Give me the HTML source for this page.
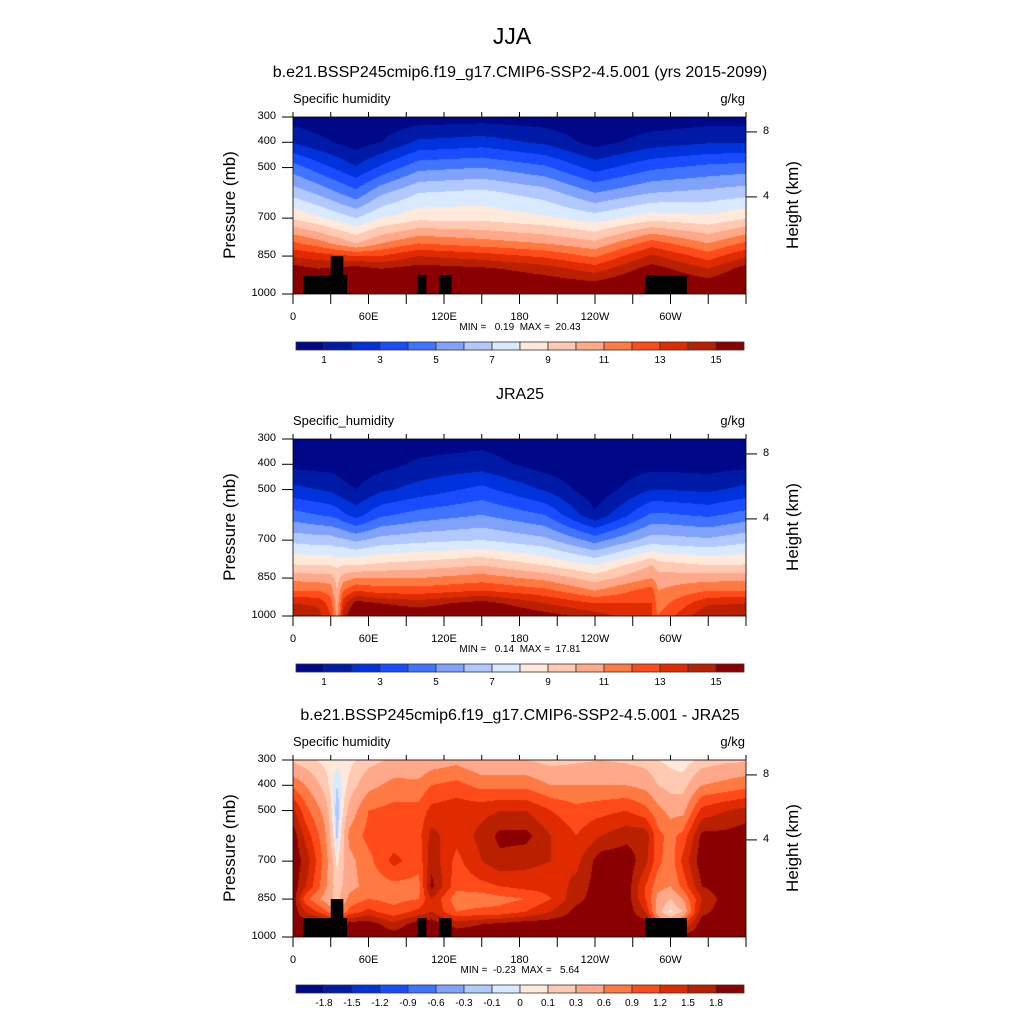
<!DOCTYPE html>
<html><head><meta charset="utf-8">
<style>
body{margin:0;background:#fff;}
#root{position:relative;width:1024px;height:1024px;background:#fff;font-family:"Liberation Sans",sans-serif;color:#000;}
.t{position:absolute;white-space:nowrap;}
canvas{position:absolute;}
svg{position:absolute;left:0;top:0;}
</style></head>
<body>
<div id="root">
<div class="t" style="left:0;width:1024px;text-align:center;top:23px;font-size:23px;">JJA</div>
</div>
<script>
// ---------- DATA ----------
const levels = [300,400,500,600,700,800,850,900,950,1000];
const colors = ["#00088a","#001aa8","#0032dc","#1a4cff","#4073ff","#80a2fa","#b2c9ff","#d9e9ff","#ffe9da","#ffc9b2","#ffa98a","#ff7942","#ff4a1a","#e02a00","#b82000","#8a0000"];
const bounds1 = [1,2,3,4,5,6,7,8,9,10,11,12,13,14,15];
const bounds3 = [-1.8,-1.5,-1.2,-0.9,-0.6,-0.3,-0.1,0,0.1,0.3,0.6,0.9,1.2,1.5,1.8];
const labels1 = ["","1","","3","","5","","7","","9","","11","","13","","15"];
const labels3 = ["-1.8","-1.5","-1.2","-0.9","-0.6","-0.3","-0.1","0","0.1","0.3","0.6","0.9","1.2","1.5","1.8"];
const xTickLabels = ["0","60E","120E","180","120W","60W"];
const xTickLons = [0,60,120,180,240,300];
const yTickLabels = ["300","400","500","700","850","1000"];
const yTickP = [300,400,500,700,850,1000];
const hTickLabels = ["8","4"];
const hTickP = [359,616];

const lons1 = [0,20,50,70,100,150,200,240,285,330,360];
const q1 = [
 [0.5,1.9,4.5,6.6,8.9,12.2,13.9,15.5,16.3,17],
 [0.3,1.3,3.5,5.8,8.2,11.5,13.5,15,15.8,16.5],
 [0.2,0.5,2.1,4.3,7,10,13,15.5,16,16.5],
 [0.3,1.0,3.2,5.8,8,11,13,15,16,17],
 [0.4,2.2,4.7,7,8.7,12,14,15.5,16.3,17],
 [0.5,2.5,5,7.3,8.7,11.5,13.5,15.2,16.1,17],
 [0.4,1.8,4.2,6.5,8.2,11,12.8,14.5,15.5,16.5],
 [0.2,0.6,2.6,5,7.5,10.3,11.8,13.5,15,16],
 [0.3,1.5,3.8,6,8.6,12.5,14.2,15.5,16.3,17],
 [0.5,1.9,4.3,6.3,8.3,11,12.5,14,15.3,16.5],
 [0.5,1.9,4.5,6.6,8.9,12.2,13.9,15.5,16.3,17]
];
const lons2 = [0,20,30,35,40,50,70,100,150,200,240,285,290,330,360];
const q2 = [
 [0.3,0.7,2.3,4.4,6.7,9.1,10.7,12,14,14.8],
 [0.2,0.6,2.0,4.0,6.5,9.0,10.5,12,13.8,14.5],
 [0.2,0.6,1.8,3.8,6.5,9.0,10.5,11.5,12.5,13],
 [0.2,0.5,1.6,3.6,6.3,8.8,9.6,10,10.3,10.5],
 [0.15,0.45,1.3,3.2,6.2,9.0,10.5,12,13.5,14.5],
 [0.1,0.35,1.0,2.6,5.8,9.0,11,13,15.5,16.5],
 [0.2,0.6,1.8,3.8,6.4,9.3,11,12.5,15,16.2],
 [0.4,1.2,2.4,4.4,6.7,9.5,11,12.5,14.5,16],
 [0.6,1.5,3.3,5,7,10,11.5,13,15.5,16.5],
 [0.2,0.5,1.9,4,6.3,9,10.7,12.3,14,15.5],
 [0.1,0.2,0.3,1.2,4.6,8,9.5,11,13,14.5],
 [0.2,0.6,2,4.2,6.5,10,11,12.5,13,13],
 [0.2,0.6,2,4.2,6.5,9.5,10.5,11,11.5,12],
 [0.2,0.5,1.8,3.8,6.2,9,10.6,12,13.8,15],
 [0.3,0.7,2.3,4.4,6.7,9.1,10.7,12,14,14.8]
];
const lons3 = [0,10,25,35,45,60,80,100,110,130,150,165,185,205,225,245,265,280,290,300,310,325,345,360];
const q3 = [
 [0.25,0.8,1.6,2,2,2,2,2,2,2],
 [0.15,0.6,1.0,1.4,1.7,1.5,1.0,1.5,2,2],
 [0.05,0.2,0.5,0.7,0.8,0.7,0.5,1.0,2,2],
 [0.05,-0.1,-0.2,-0.15,0.05,0.15,0.2,0.5,1.5,2],
 [0.05,0.15,0.4,0.7,0.5,0.5,0.7,1.0,2,2],
 [0.2,0.5,0.9,1.0,0.8,0.7,0.9,1.3,2,2],
 [0.35,0.7,1.0,1.0,1.3,0.8,0.8,1.0,1.6,2],
 [0.3,0.7,1.0,1.1,1.0,0.8,0.9,1.3,2,2],
 [0.4,0.9,1.3,1.6,1.7,1.9,1.5,1.5,2,2],
 [0.5,1.0,1.4,1.3,1.1,1.0,0.7,0.9,1.7,2],
 [0.3,0.8,1.4,1.6,1.5,1.1,0.7,1.0,1.8,2],
 [0.3,0.8,1.5,1.9,1.7,1.2,0.8,1.0,1.9,2],
 [0.3,0.8,1.5,1.9,1.6,1.3,0.9,1.2,2,2],
 [0.2,0.6,1.2,1.5,1.5,1.3,1.2,1.5,2,2],
 [0.25,0.6,1.0,1.2,1.4,1.6,1.7,1.9,2,2],
 [0.3,0.6,1.1,1.5,2,2,2,2,2,2],
 [0.25,0.6,1.2,1.7,2,2,2,2,2,2],
 [0.2,0.5,1.0,1.7,1.6,1.2,1.2,1.5,2,2],
 [0.1,0.3,0.7,1.0,1.0,0.7,0.5,0.4,1.0,2],
 [0.05,0.2,0.5,0.8,0.7,0.6,0.3,0.05,0.6,2],
 [0.0,0.2,0.5,1.0,1.3,1.0,0.6,0.3,1.2,2],
 [0.15,0.6,1.3,1.9,2,1.8,1.5,1.7,2,2],
 [0.25,0.7,1.5,1.9,2,2,2,2,2,2],
 [0.25,0.8,1.6,2,2,2,2,2,2,2]
];
// topography mask boxes: [lonStart, lonEnd, pressureTop]
const maskLon0 = [8,30,99,116,280];
const maskLon1 = [43,40,106,126,313];
const maskPTop = [925,850,925,925,925];

const panels = [
 {top:117, title:"b.e21.BSSP245cmip6.f19_g17.CMIP6-SSP2-4.5.001 (yrs 2015-2099)", vname:"Specific humidity", lons:lons1, q:q1, bounds:bounds1, cbl:labels1, mask:true, mm:"MIN =   0.19  MAX =  20.43", key:"model"},
 {top:439, title:"JRA25", vname:"Specific_humidity", lons:lons2, q:q2, bounds:bounds1, cbl:labels1, mask:false, mm:"MIN =   0.14  MAX =  17.81", key:"jra25"},
 {top:760, title:"b.e21.BSSP245cmip6.f19_g17.CMIP6-SSP2-4.5.001 - JRA25", vname:"Specific humidity", lons:lons3, q:q3, bounds:bounds3, cbl:labels3, mask:true, mm:"MIN =  -0.23  MAX =   5.64", key:"difference"}
];

// ---------- RENDER ----------
const root = document.getElementById('root');
const L = 293, R = 746, H = 177;
const W = R - L;
const xOf = lon => L + lon / 360 * W;
const yOf = (p, top) => top + (p - 300) / 700 * H;

function interp(arr, xs, v){
  let i = 0;
  while (i < xs.length - 2 && v > xs[i+1]) i++;
  const t = Math.max(0, Math.min(1, (v - xs[i]) / (xs[i+1] - xs[i])));
  return [i, t];
}
function addText(txt, name, css){
  const d = document.createElement('div');
  d.className = 't';
  d.textContent = txt;
  
  
  d.style.cssText = css;
  root.appendChild(d);
  return d;
}
const NS = "http://www.w3.org/2000/svg";
const svg = document.createElementNS(NS, 'svg');
svg.setAttribute('width', 1024); svg.setAttribute('height', 1024);


function line(x1,y1,x2,y2,name,w){
  const l = document.createElementNS(NS,'line');
  l.setAttribute('x1',x1);l.setAttribute('y1',y1);l.setAttribute('x2',x2);l.setAttribute('y2',y2);
  l.setAttribute('stroke','#000');l.setAttribute('stroke-width',w||1);
  
  
  svg.appendChild(l);
}
function rect(x,y,w,h,fill,name,stroke){
  const r = document.createElementNS(NS,'rect');
  r.setAttribute('x',x);r.setAttribute('y',y);r.setAttribute('width',w);r.setAttribute('height',h);
  r.setAttribute('fill',fill);
  if(stroke){r.setAttribute('stroke',stroke);r.setAttribute('stroke-width',0.8);}
  
  
  svg.appendChild(r);
}

panels.forEach((P, pi) => {
  const top = P.top;
  const cv = document.createElement('canvas');
  cv.width = W; cv.height = H;
  cv.style.left = L + 'px'; cv.style.top = top + 'px';
  
  
  root.appendChild(cv);
  const ctx = cv.getContext('2d');
  for (let px = 0; px < W; px++){
    const lon = (px + 0.5) / W * 360;
    const [i, t] = interp(null, P.lons, lon);
    let runStart = 0, runCol = null;
    for (let py = 0; py <= H; py++){
      let col = null;
      if (py < H){
        const p = 300 + (py + 0.5) / H * 700;
        const [j, s] = interp(null, levels, p);
        const a = P.q[i][j]*(1-s) + P.q[i][j+1]*s;
        const b = P.q[i+1][j]*(1-s) + P.q[i+1][j+1]*s;
        const v = a*(1-t) + b*t;
        let k = 0;
        while (k < P.bounds.length && v >= P.bounds[k]) k++;
        col = colors[k];
      }
      if (col !== runCol){
        if (runCol){ ctx.fillStyle = runCol; ctx.fillRect(px, runStart, 1, py - runStart); }
        runCol = col; runStart = py;
      }
    }
  }
  if (P.mask){
    for (let m = 0; m < maskLon0.length; m++){
      rect(xOf(maskLon0[m]), yOf(maskPTop[m], top), xOf(maskLon1[m]) - xOf(maskLon0[m]), yOf(1000, top) - yOf(maskPTop[m], top), '#000', 'topography-mask');
    }
  }
  rect(L, top, W, H, 'none', 'plot-frame', '#000');
  for (let lon = 0; lon <= 360; lon += 30){
    line(xOf(lon), top + H, xOf(lon), top + H + 10, 'x-tick');
    line(xOf(lon), top, xOf(lon), top - 5, 'x-tick-top');
  }
  xTickLabels.forEach((lb, k) => {
    addText(lb, 'x-tick-label', `left:${xOf(xTickLons[k]) - 30}px;width:60px;text-align:center;top:${top + H + 17}px;font-size:11px;`);
  });
  yTickP.forEach((p, k) => {
    line(L - 11, yOf(p, top), L, yOf(p, top), 'y-tick');
    addText(yTickLabels[k], 'y-tick-label', `left:236px;width:40px;text-align:right;top:${yOf(p, top) - 7}px;font-size:11px;`);
  });
  hTickP.forEach((p, k) => {
    line(R, yOf(p, top), R + 11, yOf(p, top), 'height-tick');
    addText(hTickLabels[k], 'height-tick-label', `left:763px;top:${yOf(p, top) - 7}px;font-size:11px;`);
  });
  addText(P.title, P.key + '-title', `left:0;width:1040px;text-align:center;top:${top - 53}px;font-size:16px;`);
  addText(P.vname, 'variable-name', `left:293px;top:${top - 26}px;font-size:13px;`);
  addText('g/kg', 'units-label', `left:700px;width:45px;text-align:right;top:${top - 26}px;font-size:13px;`);
  addText('Pressure (mb)', 'y-axis-title', `left:170px;width:120px;text-align:center;top:${top + 78}px;font-size:17px;transform:rotate(-90deg);`);
  addText('Height (km)', 'right-axis-title', `left:733px;width:120px;text-align:center;top:${top + 78}px;font-size:17px;transform:rotate(-90deg);`);
  addText(P.mm, 'min-max-label', `left:0;width:1040px;text-align:center;top:${top + H + 28}px;font-size:10px;white-space:pre;`);
  const cbTop = top + 225, cbL = 296, cbW = 448, n = colors.length, bw = cbW / n;
  colors.forEach((c, k) => rect(cbL + k * bw, cbTop, bw, 8, c, 'colorbar-box', '#333'));
  P.cbl.forEach((lb, k) => {
    if (!lb) return;
    const idx = (P.cbl.length === 16) ? k : k + 1;
    addText(lb, 'colorbar-label', `left:${cbL + idx * bw - 20}px;width:40px;text-align:center;top:${cbTop + 13}px;font-size:10px;`);
  });
});
root.appendChild(svg);
</script>
</body></html>
